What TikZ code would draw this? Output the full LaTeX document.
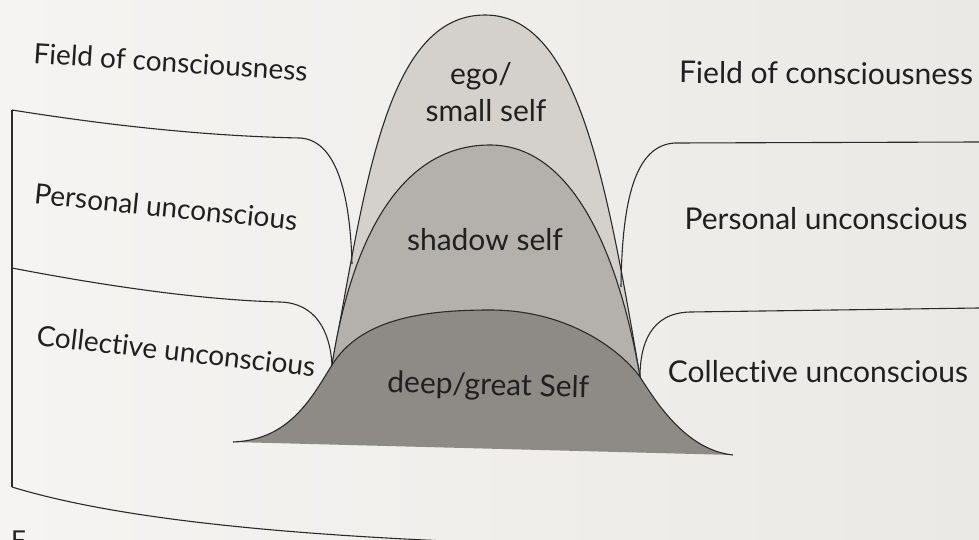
\documentclass[tikz,border=0pt]{standalone}
\usepackage{fontspec}
\setmainfont{Lato}[Ligatures=NoCommon]
\definecolor{bgl}{HTML}{F5F4F2}
\definecolor{bgr}{HTML}{EBE9E5}
\definecolor{egocol}{HTML}{D4D1CC}
\definecolor{shadowcol}{HTML}{B4B1AC}
\definecolor{deepcol}{HTML}{8E8B86}
\definecolor{linecol}{HTML}{2A2A2A}
\definecolor{txtcol}{HTML}{202020}
\begin{document}
\begin{tikzpicture}[x=1pt,y=-1pt,
  outline/.style={line width=1.1pt, draw=linecol, line join=round},
  lbl/.style={font=\fontsize{30}{36}\selectfont, text=txtcol, anchor=base, inner sep=0pt},
  lbll/.style={lbl, font=\fontsize{28}{34}\selectfont}]
\useasboundingbox (0,0) rectangle (979,540);
\clip (0,0) rectangle (979,540);
\shade[left color=bgl, right color=bgr] (0,0) rectangle (979,540);

% ego / small self dome
\fill[egocol] (332,365) .. controls (365,190) and (385,15) .. (485,15)
  .. controls (575,15) and (605,170) .. (640,377) -- cycle;
\draw[outline] (332,365) .. controls (365,190) and (385,15) .. (485,15)
  .. controls (575,15) and (605,170) .. (640,377);

% shadow self dome
\fill[shadowcol] (332,365) .. controls (350,250) and (395,145) .. (490,145)
  .. controls (575,145) and (620,260) .. (640,377) -- cycle;
\draw[outline] (332,365) .. controls (350,250) and (395,145) .. (490,145)
  .. controls (575,145) and (620,260) .. (640,377);

% deep / great Self
\fill[deepcol] (233,442) .. controls (290,440) and (312,397) .. (332,365)
  .. controls (360,320) and (420,310) .. (490,310)
  .. controls (570,310) and (622,352) .. (640,377)
  .. controls (655,400) and (685,450) .. (733,455) -- cycle;
\draw[outline] (233,442) .. controls (290,440) and (312,397) .. (332,365)
  .. controls (360,320) and (420,310) .. (490,310)
  .. controls (570,310) and (622,352) .. (640,377)
  .. controls (655,400) and (685,450) .. (733,455);

% left panel
\draw[outline] (12,110) -- (12,487);
\draw[outline] (12,110) .. controls (100,124) and (200,136) .. (300,138)
  .. controls (335,140) and (350,190) .. (352,264);
\draw[outline] (12,268) .. controls (100,285) and (200,300) .. (280,302)
  .. controls (315,303) and (330,330) .. (332,365);
\draw[outline] (12,487) .. controls (120,520) and (300,538) .. (560,545);

% right panel
\draw[outline] (979,142) -- (675,143) .. controls (635,145) and (622,200) .. (621,287);
\draw[outline] (979,308) -- (690,312) .. controls (650,313) and (640,345) .. (640,377);

% labels, left
\node[lbll, rotate=-3.7] (lfield) at (170,72) {Field of consciousness};
\node[lbll, rotate=-5.8] (lpers) at (165,217) {Personal unconscious};
\node[lbll, rotate=-6.5] (lcoll) at (175,361) {Collective unconscious};

% labels, right
\node[lbl, rotate=-0.4] (rfield) at (826,84) {Field of consciousness};
\node[lbl] (rpers) at (826,229) {Personal unconscious};
\node[lbl] (rcoll) at (818,382) {Collective unconscious};

% labels, centre
\node[lbl] (ego) at (481,85) {ego/};
\node[lbl] (small) at (486,122) {small self};
\node[lbl] (shadow) at (485,250) {shadow self};
\node[lbl, rotate=-1.5] (deep) at (488,395) {deep/great Self};

% cut-off caption fragment
\node[font=\fontsize{26}{30}\selectfont, text=txtcol, anchor=north west, inner sep=0pt] (cap) at (11,531) {F};
\end{tikzpicture}
\end{document}
